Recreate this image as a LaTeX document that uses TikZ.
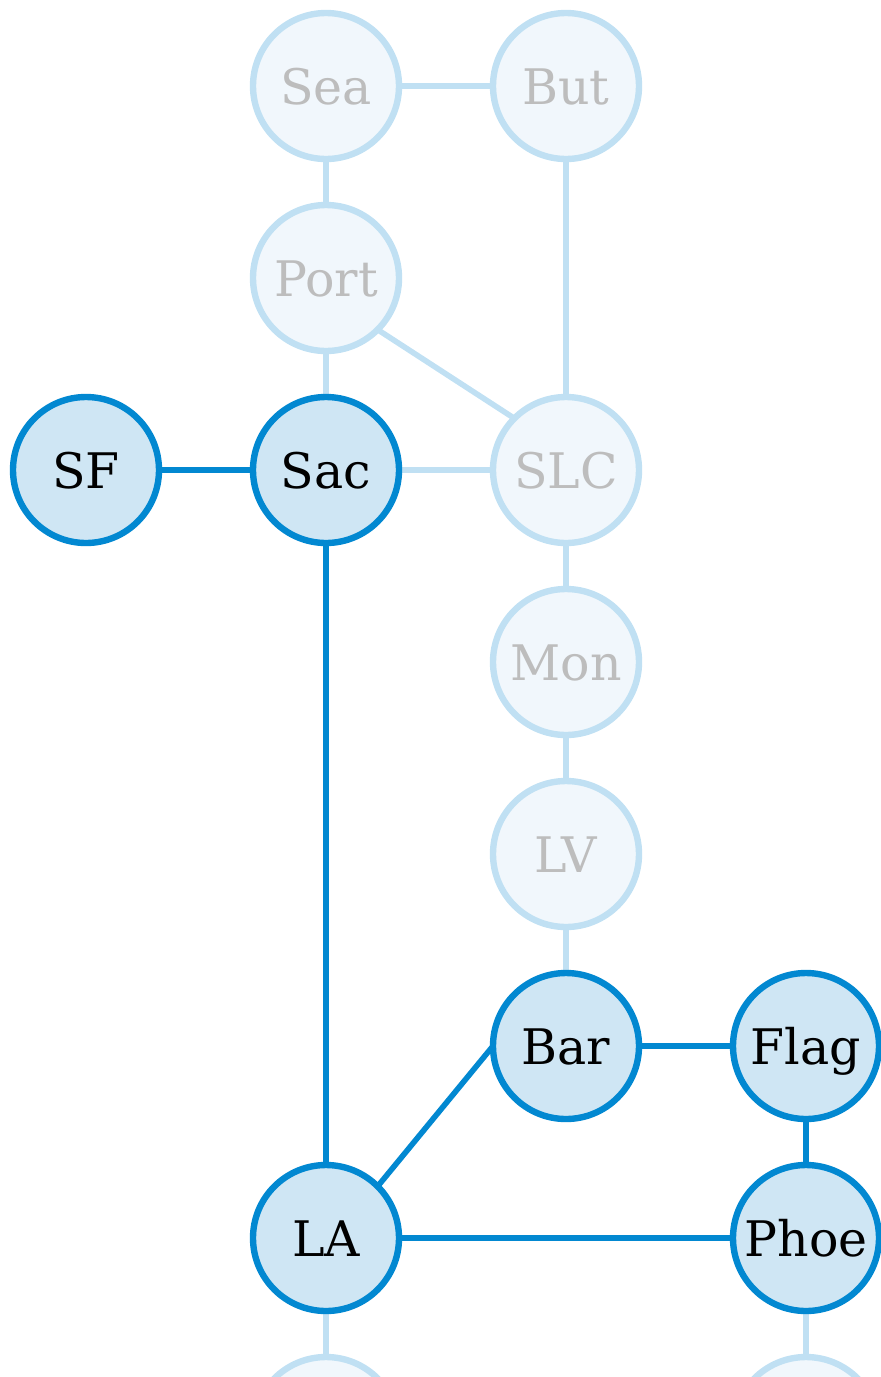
\documentclass[tikz,border=0pt]{standalone}
\usepackage{fontspec}
\setmainfont{DejaVu Serif}
\usetikzlibrary{positioning,backgrounds}
\definecolor{hotline}{RGB}{2,136,209}
\definecolor{hotfill}{RGB}{207,230,244}
\definecolor{coolline}{RGB}{192,224,243}
\definecolor{coolfill}{RGB}{241,247,252}
\definecolor{cooltext}{RGB}{189,189,189}

\begin{document}
\begin{tikzpicture}[
  x=0.5pt, y=-0.5pt,
  node distance=23pt and 47pt,
  city/.style={circle, line width=3.2pt, minimum size=73pt, inner sep=1pt, outer sep=0pt,
               text height=18pt, text depth=0pt, font=\fontsize{24.5}{28}\selectfont},
  hot/.style={city, draw=hotline, fill=hotfill, text=black},
  cool/.style={city, draw=coolline, fill=coolfill, text=cooltext},
  hotedge/.style={line width=2.8pt, hotline},
  cooledge/.style={line width=2.8pt, coolline}
]
\useasboundingbox (0,0) rectangle (880,1377);

\node[cool] (sea) at (326,86) {Sea};
\node[cool] (but)  [right=of sea]  {But};
\node[cool] (port) [below=of sea]  {Port};
\node[hot]  (sac)  [below=of port] {Sac};
\node[hot]  (sf)   [left=of sac]   {SF};
\node[cool] (slc)  [right=of sac]  {SLC};
\node[cool] (mon)  [below=of slc]  {Mon};
\node[cool] (lv)   [below=of mon]  {LV};
\node[hot]  (bar)  [below=of lv]   {Bar};
\node[hot]  (flag) [right=of bar]  {Flag};
\node[hot]  (phoe) [below=of flag] {Phoe};
\node[hot]  (la) at (sac |- phoe)  {LA};
\node[cool] (la-s)   [below=of la]   {};
\node[cool] (phoe-s) [below=of phoe] {};

\begin{scope}[on background layer]
\draw[cooledge] (sea) -- (but);
\draw[cooledge] (sea) -- (port);
\draw[cooledge] (but) -- (slc);
\draw[cooledge] (port) -- (sac);
\draw[cooledge] (port.south east) -- (slc.north west);
\draw[cooledge] (sac) -- (slc);
\draw[cooledge] (slc) -- (mon);
\draw[cooledge] (mon) -- (lv);
\draw[cooledge] (lv) -- (bar);
\draw[cooledge] (la) -- (la-s);
\draw[cooledge] (phoe) -- (phoe-s);
\draw[hotedge] (sf) -- (sac);
\draw[hotedge] (sac) -- (la);
\draw[hotedge] (la.north east) -- (bar.west);
\draw[hotedge] (bar) -- (flag);
\draw[hotedge] (flag) -- (phoe);
\draw[hotedge] (la) -- (phoe);
\end{scope}
\end{tikzpicture}
\end{document}
